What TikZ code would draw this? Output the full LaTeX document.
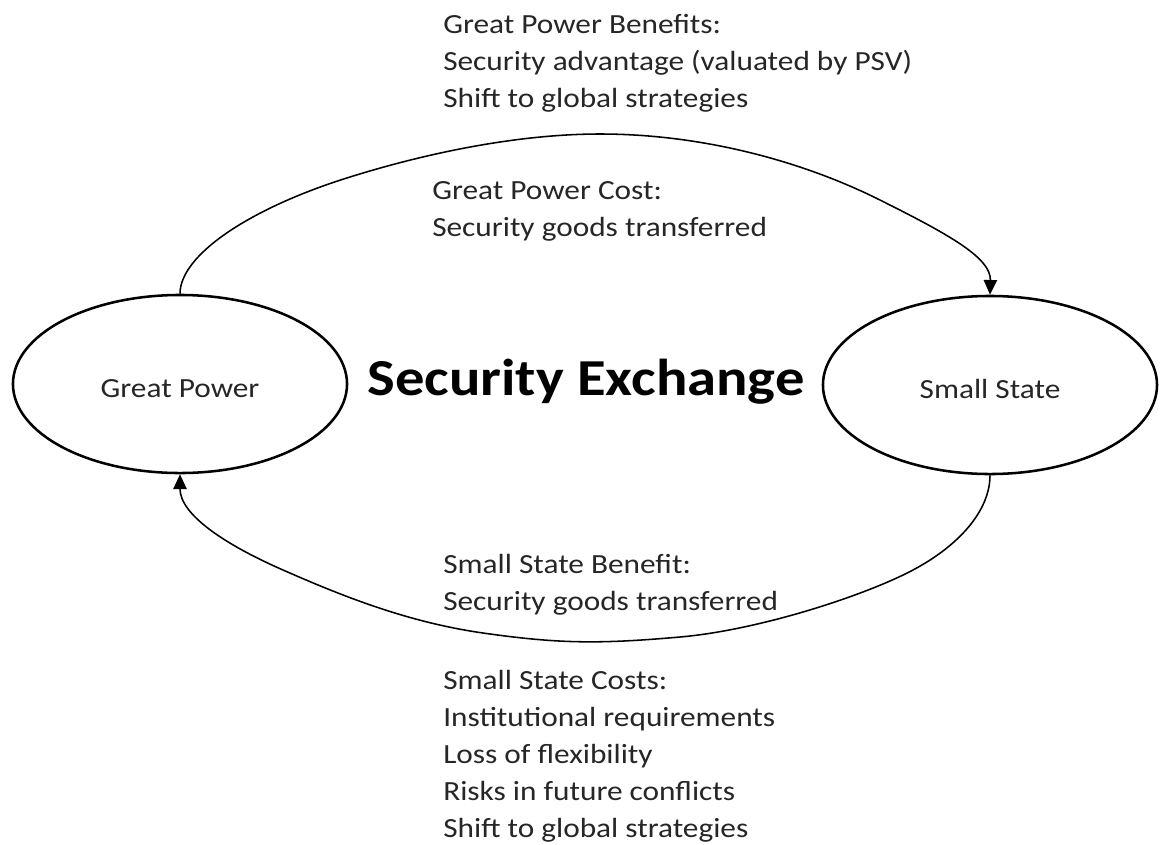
\documentclass[tikz,border=0pt]{standalone}
\usepackage{fontspec}
\setmainfont[FakeStretch=1.13]{Carlito}
\usetikzlibrary{shapes.geometric,arrows.meta}
\tikzset{
  statebox/.style={ellipse,draw=black,line width=1.8pt,inner sep=0pt,
    minimum width=8.35cm,minimum height=4.45cm,text height=19pt,text depth=0pt,
    font=\fontsize{19.7pt}{26.3pt}\selectfont,text=black!85},
  infotext/.style={anchor=base west,align=left,inner sep=0pt,
    font=\fontsize{19.7pt}{26.3pt}\selectfont,text=black!85},
  flow/.style={line width=1.1pt,-{Triangle[length=10.5pt,width=9.5pt]}}
}
\begin{document}
\begin{tikzpicture}[x=0.025cm,y=-0.025cm]
\fill[white] (0,0) rectangle (1160,844);
\useasboundingbox (0,0) rectangle (1160,844);

\node[statebox] (gp) at (180,384) {Great Power};
\node[statebox] (ss) at (990,385) {Small State};

\node[anchor=base,inner sep=0pt,font=\fontsize{36.9pt}{40pt}\selectfont\bfseries] (title) at (586,395) {Security Exchange};

\node[infotext] (gpb) at (443,107) {Great Power Benefits:\\Security advantage (valuated by PSV)\\Shift to global strategies};
\node[infotext] (gpc) at (432,236) {Great Power Cost:\\Security goods transferred};
\node[infotext] (ssb) at (443,610) {Small State Benefit:\\Security goods transferred};
\node[infotext] (ssc) at (443,837) {Small State Costs:\\Institutional requirements\\Loss of flexibility\\Risks in future conflicts\\Shift to global strategies};

\draw[flow] (gp.north) .. controls (180,255) and (250,208) .. (350,177)
  .. controls (430,152) and (520,134) .. (600,134)
  .. controls (700,134) and (800,160) .. (880,200)
  .. controls (950,235) and (991,258) .. (ss.north);

\draw[flow] (ss.south) .. controls (990,510) and (960,545) .. (913,570)
  .. controls (866,595) and (760,630) .. (680,637)
  .. controls (600,644) and (560,644) .. (483,633)
  .. controls (406,622) and (340,595) .. (283,570)
  .. controls (226,545) and (180,515) .. (gp.south);
\end{tikzpicture}
\end{document}
